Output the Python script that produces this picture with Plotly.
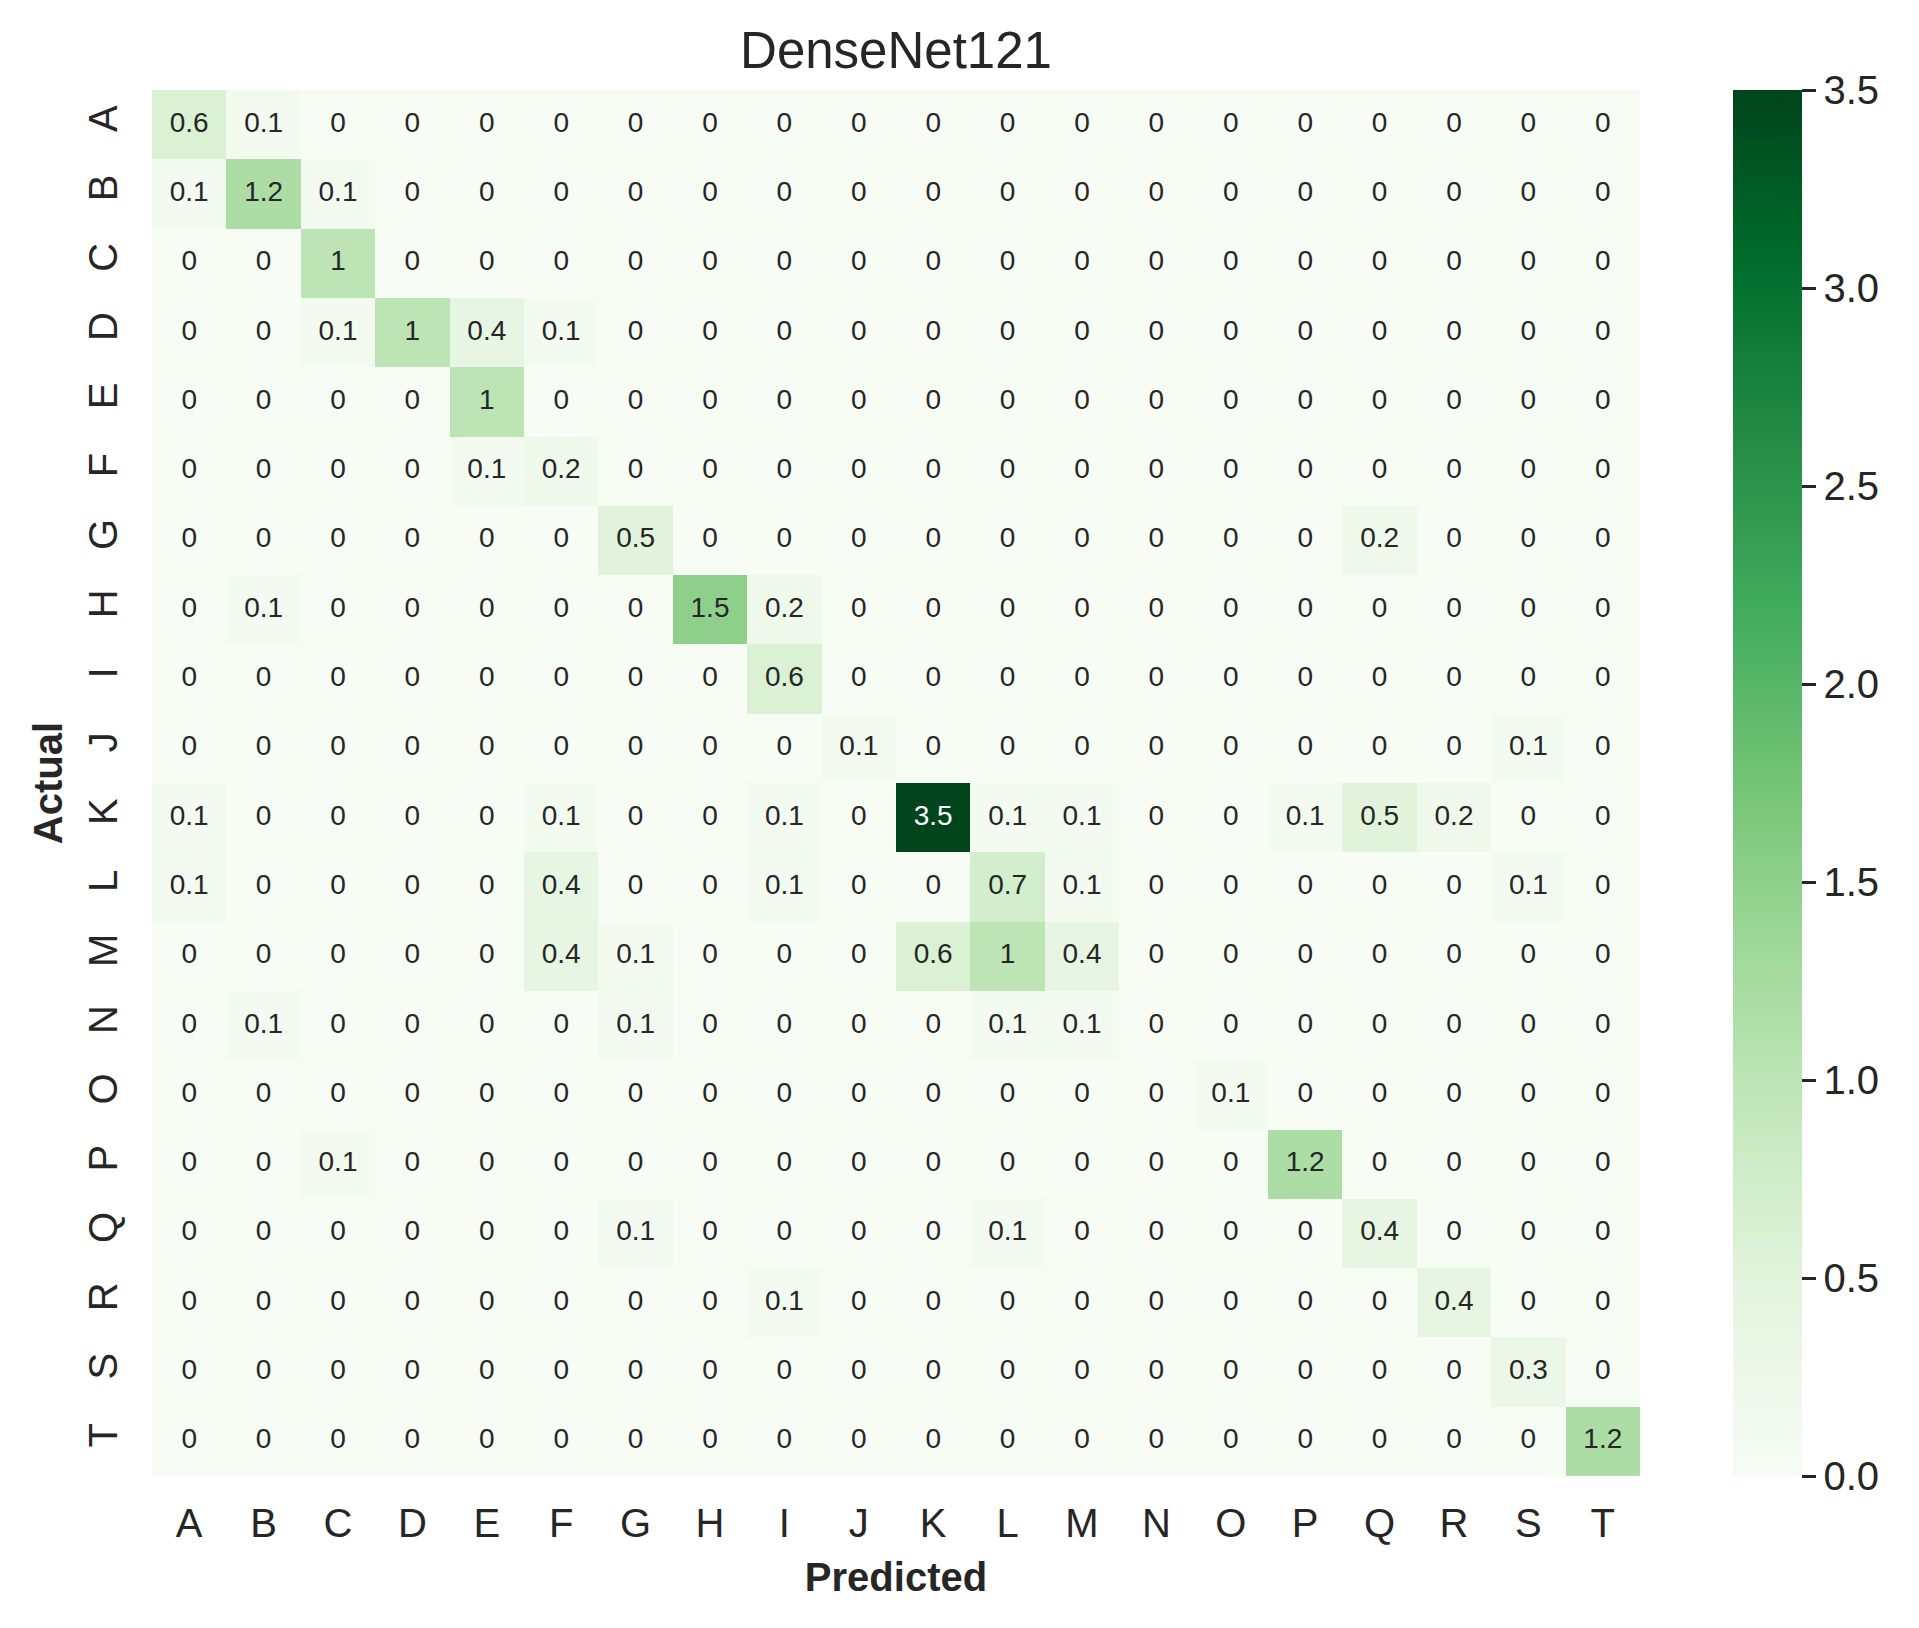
import plotly.graph_objects as go

labels = list("ABCDEFGHIJKLMNOPQRST")

# confusion matrix rows = Actual, columns = Predicted
row_A = [0.6, 0.1, 0, 0, 0, 0, 0, 0, 0, 0, 0, 0, 0, 0, 0, 0, 0, 0, 0, 0]
row_B = [0.1, 1.2, 0.1, 0, 0, 0, 0, 0, 0, 0, 0, 0, 0, 0, 0, 0, 0, 0, 0, 0]
row_C = [0, 0, 1, 0, 0, 0, 0, 0, 0, 0, 0, 0, 0, 0, 0, 0, 0, 0, 0, 0]
row_D = [0, 0, 0.1, 1, 0.4, 0.1, 0, 0, 0, 0, 0, 0, 0, 0, 0, 0, 0, 0, 0, 0]
row_E = [0, 0, 0, 0, 1, 0, 0, 0, 0, 0, 0, 0, 0, 0, 0, 0, 0, 0, 0, 0]
row_F = [0, 0, 0, 0, 0.1, 0.2, 0, 0, 0, 0, 0, 0, 0, 0, 0, 0, 0, 0, 0, 0]
row_G = [0, 0, 0, 0, 0, 0, 0.5, 0, 0, 0, 0, 0, 0, 0, 0, 0, 0.2, 0, 0, 0]
row_H = [0, 0.1, 0, 0, 0, 0, 0, 1.5, 0.2, 0, 0, 0, 0, 0, 0, 0, 0, 0, 0, 0]
row_I = [0, 0, 0, 0, 0, 0, 0, 0, 0.6, 0, 0, 0, 0, 0, 0, 0, 0, 0, 0, 0]
row_J = [0, 0, 0, 0, 0, 0, 0, 0, 0, 0.1, 0, 0, 0, 0, 0, 0, 0, 0, 0.1, 0]
row_K = [0.1, 0, 0, 0, 0, 0.1, 0, 0, 0.1, 0, 3.5, 0.1, 0.1, 0, 0, 0.1, 0.5, 0.2, 0, 0]
row_L = [0.1, 0, 0, 0, 0, 0.4, 0, 0, 0.1, 0, 0, 0.7, 0.1, 0, 0, 0, 0, 0, 0.1, 0]
row_M = [0, 0, 0, 0, 0, 0.4, 0.1, 0, 0, 0, 0.6, 1, 0.4, 0, 0, 0, 0, 0, 0, 0]
row_N = [0, 0.1, 0, 0, 0, 0, 0.1, 0, 0, 0, 0, 0.1, 0.1, 0, 0, 0, 0, 0, 0, 0]
row_O = [0, 0, 0, 0, 0, 0, 0, 0, 0, 0, 0, 0, 0, 0, 0.1, 0, 0, 0, 0, 0]
row_P = [0, 0, 0.1, 0, 0, 0, 0, 0, 0, 0, 0, 0, 0, 0, 0, 1.2, 0, 0, 0, 0]
row_Q = [0, 0, 0, 0, 0, 0, 0.1, 0, 0, 0, 0, 0.1, 0, 0, 0, 0, 0.4, 0, 0, 0]
row_R = [0, 0, 0, 0, 0, 0, 0, 0, 0.1, 0, 0, 0, 0, 0, 0, 0, 0, 0.4, 0, 0]
row_S = [0, 0, 0, 0, 0, 0, 0, 0, 0, 0, 0, 0, 0, 0, 0, 0, 0, 0, 0.3, 0]
row_T = [0, 0, 0, 0, 0, 0, 0, 0, 0, 0, 0, 0, 0, 0, 0, 0, 0, 0, 0, 1.2]

z = [row_A, row_B, row_C, row_D, row_E, row_F, row_G, row_H, row_I, row_J,
     row_K, row_L, row_M, row_N, row_O, row_P, row_Q, row_R, row_S, row_T]

cbar_ticks = [0.0, 0.5, 1.0, 1.5, 2.0, 2.5, 3.0, 3.5]

greens = ["#f7fcf5", "#e5f5e0", "#c7e9c0", "#a1d99b", "#74c476",
          "#41ab5d", "#238b45", "#006d2c", "#00441b"]
colorscale = [[i / (len(greens) - 1), c] for i, c in enumerate(greens)]

FONT = "Liberation Sans, Arial, sans-serif"
DARK = "#262626"
ZMAX = 3.5

def fmt(v):
    return "%g" % v

xs, ys, txt, cols = [], [], [], []
for r, lab_r in enumerate(labels):
    for c, lab_c in enumerate(labels):
        v = z[r][c]
        xs.append(lab_c)
        ys.append(lab_r)
        txt.append(fmt(v))
        cols.append("white" if v / ZMAX > 0.6 else DARK)

fig = go.Figure()
fig.add_trace(go.Heatmap(
    z=z, x=labels, y=labels, colorscale=colorscale, zmin=0, zmax=ZMAX,
    hoverongaps=False,
    colorbar=dict(
        thickness=69, len=1, lenmode="fraction", y=0.5, yanchor="middle",
        x=1.0625, xanchor="left", xpad=0, ypad=0, outlinewidth=0,
        tickvals=cbar_ticks, tickformat=".1f", ticks="outside",
        ticklen=14, tickwidth=3, tickcolor=DARK,
        tickfont=dict(family=FONT, size=40, color=DARK),
    ),
))
fig.add_trace(go.Scatter(
    x=xs, y=ys, mode="text", text=txt,
    textfont=dict(family=FONT, size=28, color=cols),
    hoverinfo="skip", showlegend=False,
))

n = len(labels)
fig.update_layout(
    width=1919, height=1628,
    margin=dict(l=152, r=279, t=90, b=152),
    paper_bgcolor="white", plot_bgcolor="white",
    font=dict(family=FONT, color=DARK),
    title=dict(text="DenseNet121", x=(896 / 1919), xanchor="center",
               y=1 - 50 / 1628, yanchor="middle", yref="container",
               font=dict(family=FONT, size=51, color=DARK)),
    showlegend=False,
)
fig.update_xaxes(
    type="category", categoryorder="array", categoryarray=labels,
    range=[-0.5, n - 0.5], autorange=False,
    showgrid=False, zeroline=False, showline=False,
    ticks="outside", ticklen=12, tickcolor="rgba(0,0,0,0)",
    tickfont=dict(family=FONT, size=40, color=DARK),
    title=dict(text="<b>Predicted</b>", standoff=18,
               font=dict(family=FONT, size=40, color=DARK)),
)
fig.update_yaxes(
    type="category", categoryorder="array", categoryarray=labels,
    range=[n - 0.5, -0.5], autorange=False,
    showgrid=False, zeroline=False, showline=False,
    ticks="outside", ticklen=18, tickcolor="rgba(0,0,0,0)", tickangle=-90,
    tickfont=dict(family=FONT, size=40, color=DARK),
    title=dict(text="<b>Actual</b>", standoff=6,
               font=dict(family=FONT, size=40, color=DARK)),
)

fig.write_html("out.html")
